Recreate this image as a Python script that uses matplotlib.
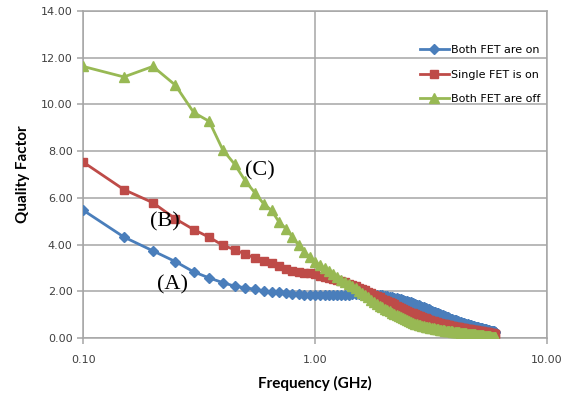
import numpy as np
import matplotlib
matplotlib.use("Agg")
import matplotlib.pyplot as plt
from matplotlib.ticker import FixedLocator, NullLocator, FuncFormatter

# frequency sweep (GHz), 0.10 to 6.00 in 0.05 steps
freq = np.round(np.arange(0.10, 6.0001, 0.05), 2)

q_both_on = [
    5.47, 4.32, 3.73, 3.27, 2.83, 2.57, 2.37, 2.22, 2.15, 2.08,
    2.01, 1.98, 1.95, 1.91, 1.89, 1.87, 1.86, 1.86, 1.86, 1.85,
    1.85, 1.85, 1.85, 1.86, 1.86, 1.86, 1.86, 1.87, 1.87, 1.87,
    1.87, 1.87, 1.86, 1.86, 1.85, 1.84, 1.83, 1.82, 1.80, 1.78,
    1.76, 1.74, 1.72, 1.70, 1.67, 1.65, 1.62, 1.60, 1.57, 1.54,
    1.52, 1.49, 1.46, 1.43, 1.40, 1.37, 1.34, 1.31, 1.28, 1.25,
    1.22, 1.19, 1.16, 1.13, 1.10, 1.08, 1.05, 1.02, 1.00, 0.97,
    0.95, 0.92, 0.90, 0.88, 0.85, 0.83, 0.81, 0.79, 0.77, 0.75,
    0.73, 0.71, 0.70, 0.68, 0.66, 0.65, 0.63, 0.62, 0.60, 0.59,
    0.57, 0.56, 0.54, 0.53, 0.52, 0.50, 0.49, 0.48, 0.47, 0.45,
    0.44, 0.43, 0.42, 0.41, 0.40, 0.39, 0.38, 0.37, 0.36, 0.35,
    0.34, 0.33, 0.32, 0.31, 0.30, 0.29, 0.28, 0.27, 0.26,
]

q_single_on = [
    7.53, 6.35, 5.79, 5.10, 4.64, 4.31, 3.97, 3.78, 3.59, 3.43,
    3.30, 3.19, 3.07, 2.97, 2.88, 2.84, 2.80, 2.76, 2.72, 2.67,
    2.62, 2.58, 2.53, 2.48, 2.43, 2.38, 2.33, 2.28, 2.22, 2.16,
    2.10, 2.04, 1.98, 1.92, 1.86, 1.80, 1.75, 1.69, 1.64, 1.59,
    1.54, 1.49, 1.44, 1.39, 1.34, 1.29, 1.24, 1.20, 1.16, 1.12,
    1.08, 1.05, 1.01, 0.98, 0.95, 0.92, 0.89, 0.87, 0.84, 0.82,
    0.79, 0.77, 0.74, 0.72, 0.70, 0.68, 0.66, 0.64, 0.62, 0.61,
    0.59, 0.58, 0.56, 0.55, 0.54, 0.52, 0.51, 0.50, 0.49, 0.48,
    0.47, 0.46, 0.45, 0.44, 0.43, 0.42, 0.41, 0.40, 0.40, 0.39,
    0.38, 0.37, 0.36, 0.36, 0.35, 0.34, 0.33, 0.33, 0.32, 0.31,
    0.30, 0.30, 0.29, 0.28, 0.27, 0.27, 0.26, 0.25, 0.25, 0.24,
    0.23, 0.22, 0.22, 0.21, 0.20, 0.20, 0.19, 0.18, 0.17,
]

q_both_off = [
    11.62, 11.17, 11.62, 10.82, 9.65, 9.27, 8.06, 7.44, 6.73, 6.22,
    5.75, 5.46, 4.96, 4.68, 4.32, 3.97, 3.68, 3.47, 3.26, 3.12,
    2.98, 2.85, 2.72, 2.61, 2.50, 2.40, 2.31, 2.21, 2.12, 2.02,
    1.93, 1.83, 1.74, 1.64, 1.55, 1.47, 1.39, 1.31, 1.24, 1.19,
    1.14, 1.09, 1.04, 0.99, 0.95, 0.90, 0.86, 0.81, 0.77, 0.73,
    0.69, 0.66, 0.62, 0.59, 0.57, 0.55, 0.52, 0.50, 0.48, 0.47,
    0.45, 0.43, 0.42, 0.41, 0.39, 0.38, 0.37, 0.36, 0.35, 0.34,
    0.33, 0.32, 0.31, 0.30, 0.29, 0.29, 0.28, 0.27, 0.26, 0.26,
    0.25, 0.24, 0.24, 0.23, 0.22, 0.22, 0.21, 0.21, 0.20, 0.19,
    0.19, 0.18, 0.17, 0.17, 0.16, 0.16, 0.15, 0.14, 0.14, 0.13,
    0.13, 0.12, 0.12, 0.11, 0.11, 0.10, 0.10, 0.09, 0.09, 0.08,
    0.08, 0.07, 0.07, 0.06, 0.06, 0.06, 0.05, 0.05, 0.05,
]

labels = ["Both FET are on", "Single FET is on", "Both FET are off"]
x_ticks = [0.1, 1.0, 10.0]
y_ticks = [0, 2, 4, 6, 8, 10, 12, 14]

fig = plt.figure(figsize=(5.69, 4.0), dpi=100)
ax = fig.add_axes([0.146, 0.155, 0.815, 0.818])

grid_col = "#a6a6a6"
ax.plot(freq, q_both_on, color="#4a7ebb", lw=2, marker="D", ms=5.5,
        label=labels[0], zorder=3)
ax.plot(freq, q_single_on, color="#be4b48", lw=2, marker="s", ms=6,
        label=labels[1], zorder=3)
ax.plot(freq, q_both_off, color="#98b954", lw=2, marker="^", ms=7,
        label=labels[2], zorder=3)

ax.set_xscale("log")
ax.set_xlim(0.1, 10)
ax.set_ylim(0, 14)
ax.xaxis.set_major_locator(FixedLocator(x_ticks))
ax.xaxis.set_minor_locator(NullLocator())
ax.xaxis.set_major_formatter(FuncFormatter(lambda v, p: f"{v:.2f}"))
ax.yaxis.set_major_locator(FixedLocator(y_ticks))
ax.yaxis.set_major_formatter(FuncFormatter(lambda v, p: f"{v:.2f}"))

ax.grid(True, color=grid_col, lw=1.1)
ax.set_axisbelow(True)
for s in ax.spines.values():
    s.set_color(grid_col)
    s.set_linewidth(1.1)
ax.tick_params(colors=grid_col, labelcolor="#404040", labelsize=8,
               length=4, width=1.1)
ax.tick_params(axis="x", pad=8)

ax.set_xlabel("Frequency (GHz)", fontsize=11, fontweight="bold",
              family="Lato", labelpad=8)
ax.set_ylabel("Quality Factor", fontsize=11, fontweight="bold",
              family="Lato", labelpad=8)

serif = "Liberation Serif"
ax.text(0.242, 2.26, "(A)", fontsize=16, family=serif, ha="center", va="center")
ax.text(0.226, 4.95, "(B)", fontsize=16, family=serif, ha="center", va="center")
ax.text(0.579, 7.17, "(C)", fontsize=16, family=serif, ha="center", va="center")

ax.legend(loc="upper right", bbox_to_anchor=(1.0, 0.915), frameon=False,
          fontsize=8, handlelength=2.6, handletextpad=0.2, labelspacing=1.3,
          borderaxespad=0.2)

fig.savefig("out.png", dpi=100)
